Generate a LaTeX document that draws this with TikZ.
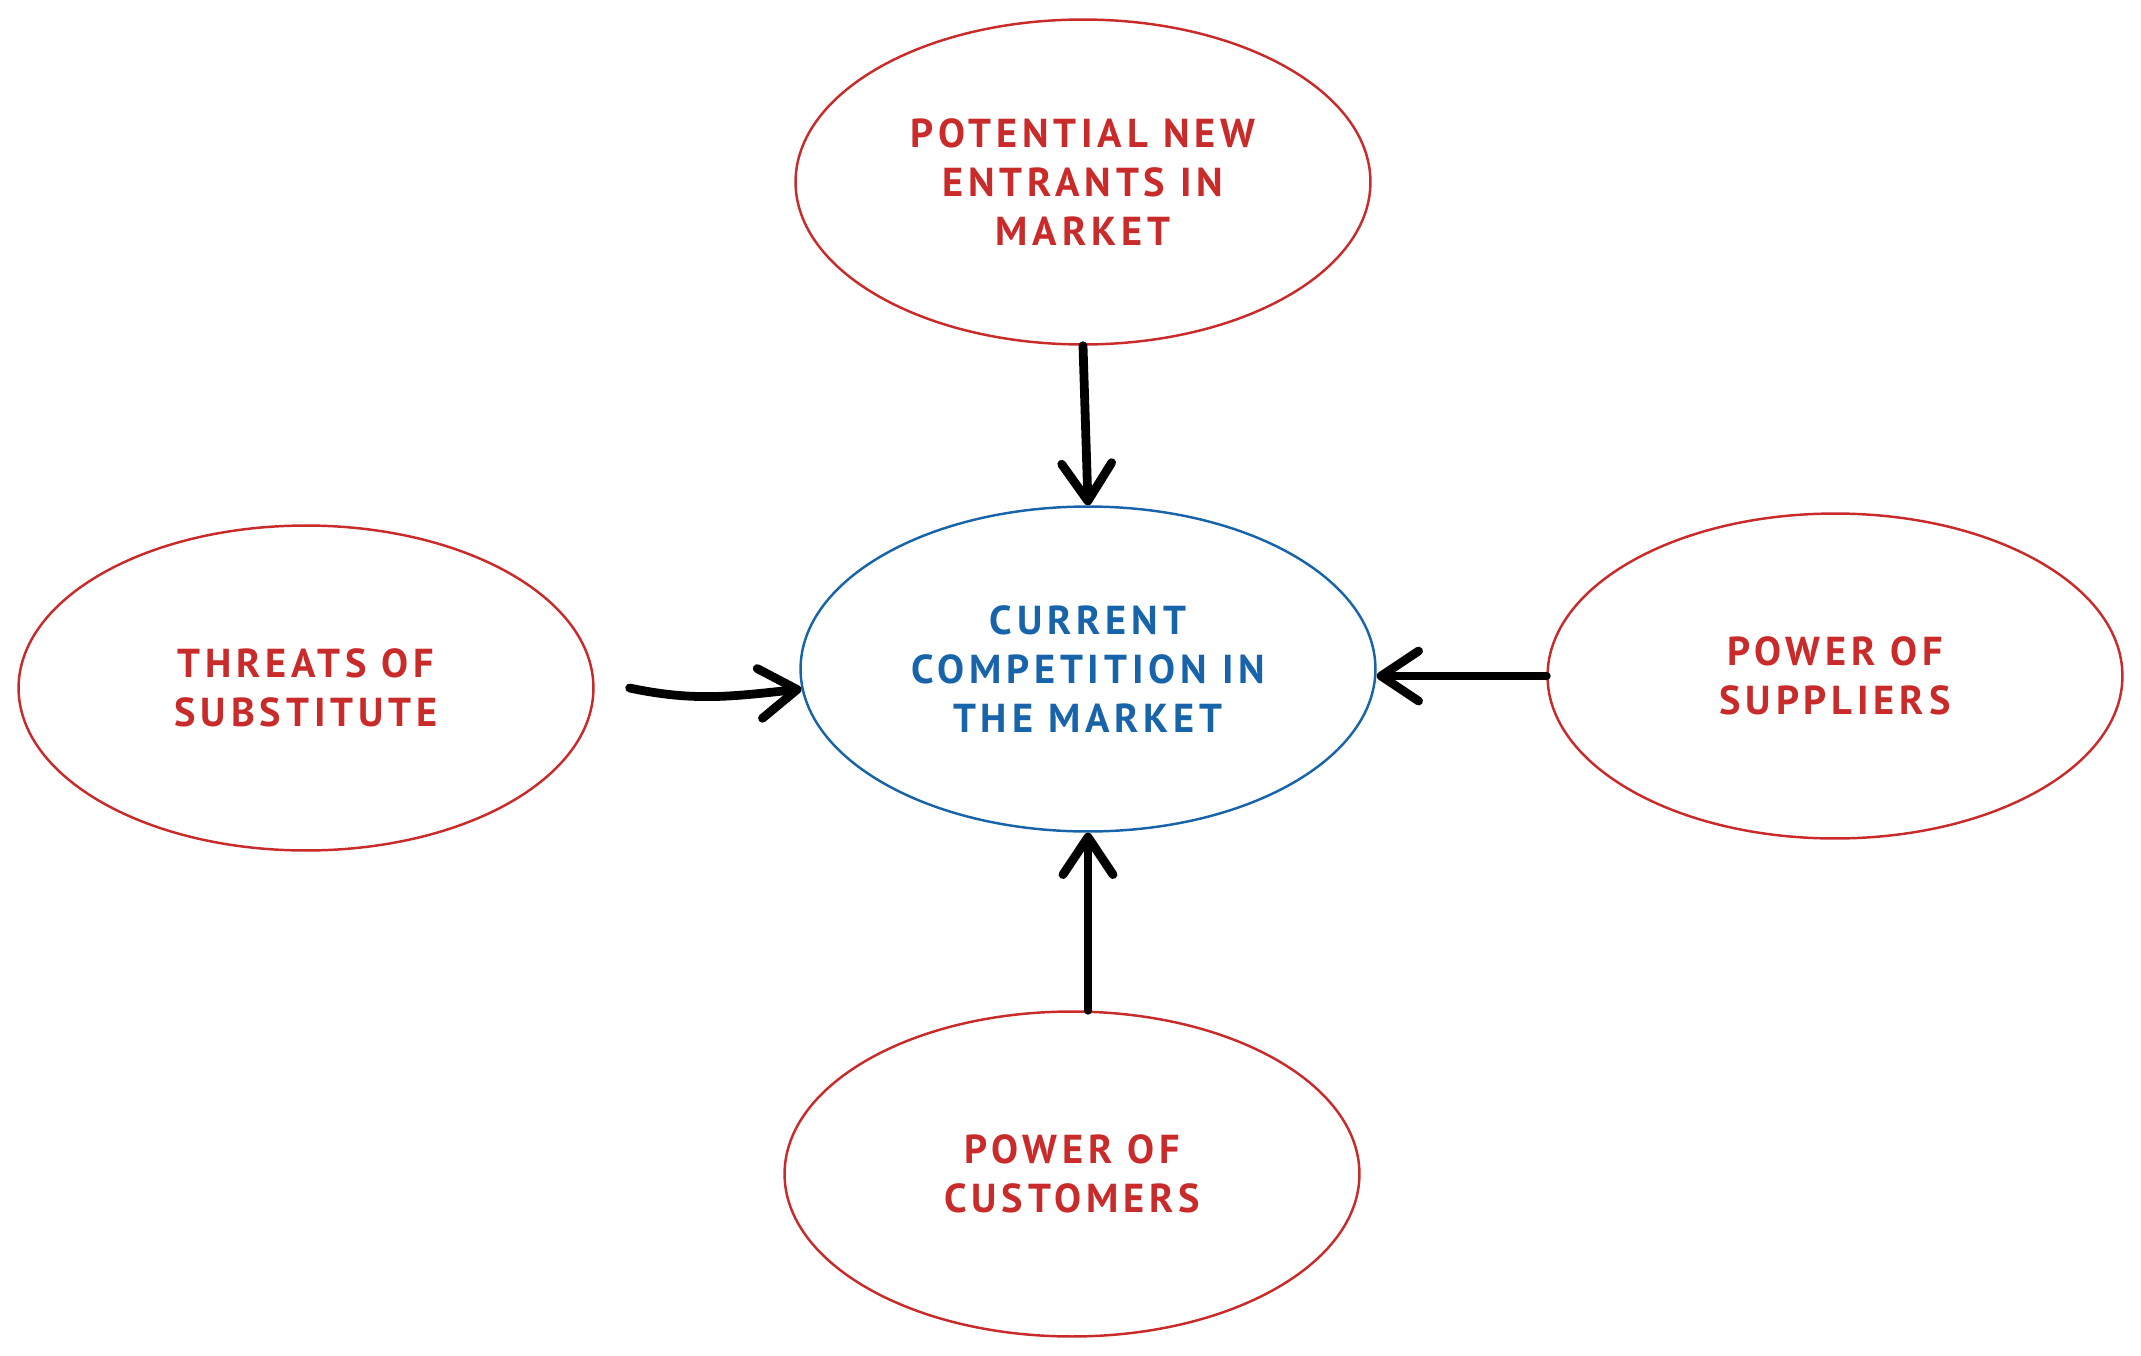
\documentclass[tikz,border=0pt]{standalone}
\usepackage{fontspec}
\setmainfont[LetterSpace=12]{PT Sans}
\usepackage{tikz}
\usetikzlibrary{shapes.geometric}
\usetikzlibrary{arrows.meta}
\definecolor{color-force}{RGB}{201,42,42}
\definecolor{color-core}{RGB}{24,100,171}

\begin{document}
\begin{tikzpicture}[x=0.02cm, y=-0.02cm,
force/.style={ellipse,draw=color-force,text=color-force,line width=1.4pt,minimum width=11.5cm,minimum height=6.5cm,align=center,font=\bfseries\fontsize{23}{28}\selectfont},
core/.style={force,draw=color-core,text=color-core},
push/.style={line width=5pt,line cap=round,-{Straight Barb[length=0.75cm,width=1cm,round]}}]
\useasboundingbox (0,0) rectangle (2141,1356);

% forces
\node [force] (potential) at (1083,182) {POTENTIAL NEW\\ENTRANTS IN\\MARKET};
\node [force] (threats) at (306,688) {THREATS OF\\SUBSTITUTE};
\node [force] (suppliers) at (1835,676) {POWER OF\\SUPPLIERS};
\node [force] (customers) at (1072,1174) {POWER OF\\CUSTOMERS};

% centre
\node [core] (current) at (1088,669) {CURRENT\\COMPETITION IN\\THE MARKET};

% arrows to the centre
\draw[push] (potential.south) -- (current.north);
\draw[push] (customers.north -| current.south) -- (current.south);
\draw[push] (suppliers.west) -- (current.east |- suppliers.west);
\draw[push] ([xshift=0.7cm]threats.east) to[out=-12,in=186] (current.184);

\end{tikzpicture}
\end{document}
